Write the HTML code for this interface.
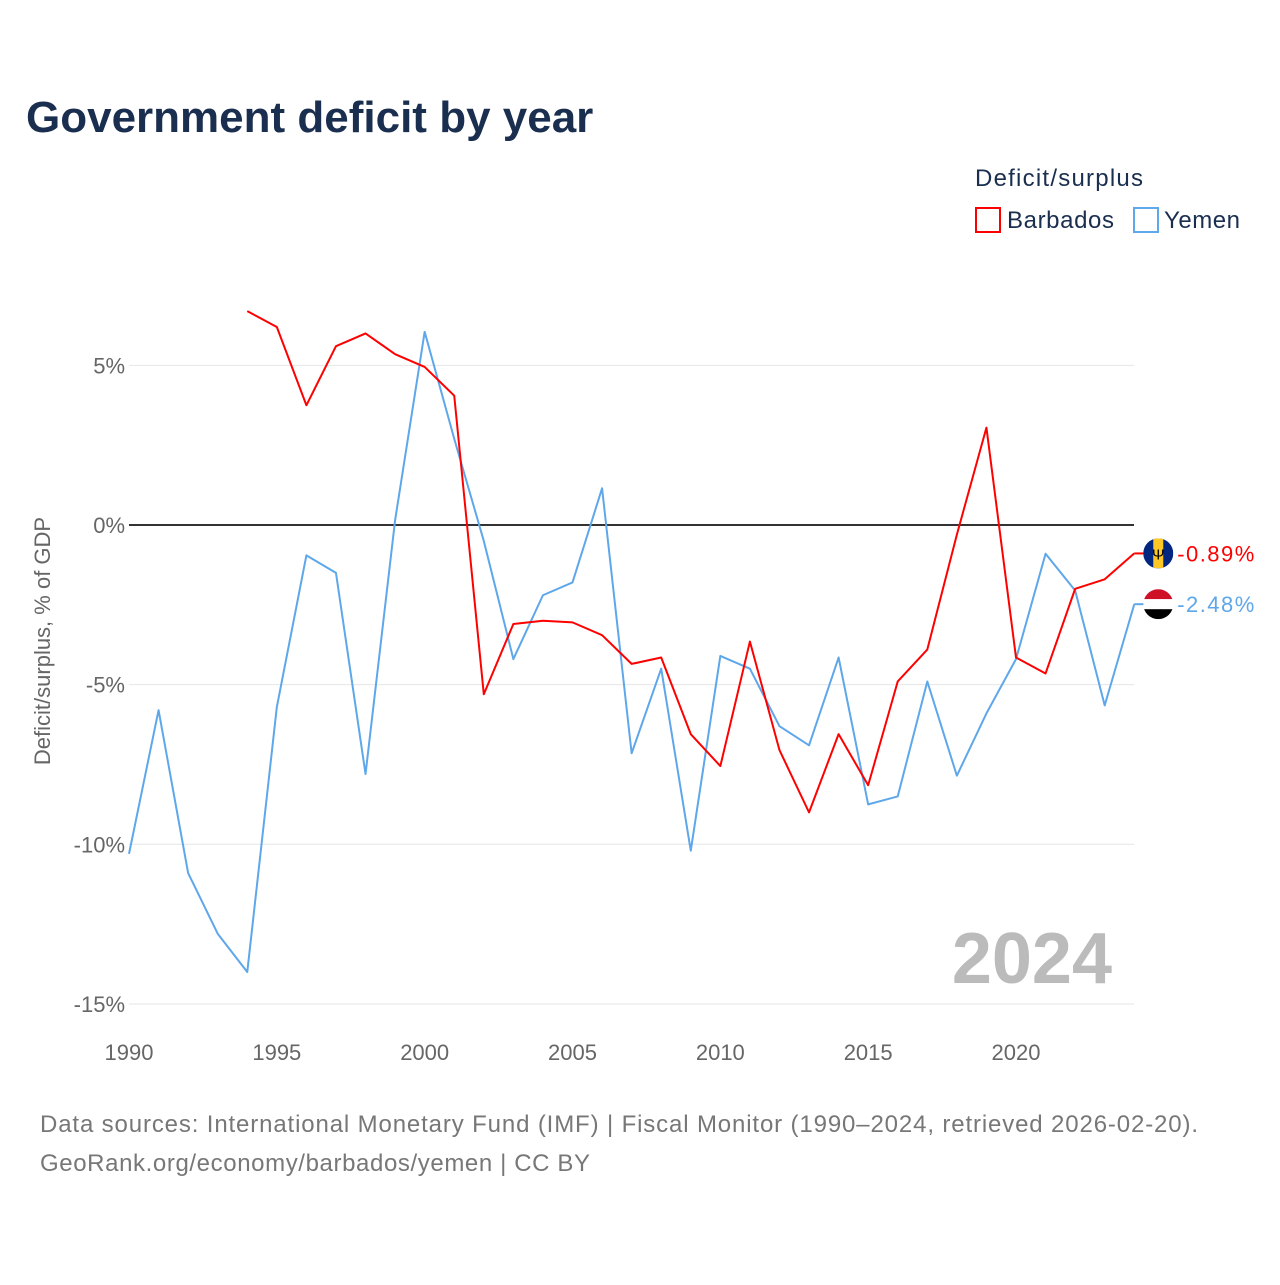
<!DOCTYPE html>
<html><head><meta charset="utf-8"><style>
body{margin:0;background:#fff;font-family:"Liberation Sans",sans-serif;}
svg text{font-family:"Liberation Sans",sans-serif;}
</style></head><body>
<svg id="c" width="1280" height="1280" xmlns="http://www.w3.org/2000/svg">
<rect width="1280" height="1280" fill="#fff"/>
<text x="26" y="132" font-size="44" font-weight="bold" fill="#1a2e4f">Government deficit by year</text>
<text x="975" y="186" font-size="24" fill="#1a2e4f" textLength="168">Deficit/surplus</text>
<g><rect x="976" y="208" width="24" height="24" fill="none" stroke="#ff0000" stroke-width="2"/><text x="1007" y="228" font-size="24" fill="#1a2e4f" textLength="107">Barbados</text></g>
<g><rect x="1134" y="208" width="24" height="24" fill="none" stroke="#5ea7ea" stroke-width="2"/><text x="1164" y="228" font-size="24" fill="#1a2e4f" textLength="76">Yemen</text></g>
<text transform="translate(50,641) rotate(-90)" text-anchor="middle" font-size="22" fill="#666">Deficit/surplus, % of GDP</text>
<text x="1112" y="983" text-anchor="end" font-size="72" font-weight="bold" fill="#bbb">2024</text>
<g id="grid"></g><g id="lines"></g>
<text x="40" y="1132" font-size="24" fill="#777" textLength="1158">Data sources: International Monetary Fund (IMF) | Fiscal Monitor (1990–2024, retrieved 2026-02-20).</text>
<text x="40" y="1171" font-size="24" fill="#777" textLength="550">GeoRank.org/economy/barbados/yemen | CC BY</text>
</svg>
<script>
const years=[];for(let y=1990;y<=2024;y++)years.push(y);
const yemen=[-10.3,-5.8,-10.9,-12.8,-14.0,-5.7,-0.95,-1.5,-7.8,0.15,6.05,2.7,-0.5,-4.2,-2.2,-1.8,1.15,-7.15,-4.5,-10.2,-4.1,-4.5,-6.3,-6.9,-4.15,-8.75,-8.5,-4.9,-7.85,-5.9,-4.2,-0.9,-2.05,-5.65,-2.48];
const barbados=[null,null,null,null,6.7,6.2,3.75,5.6,6.0,5.35,4.95,4.05,-5.3,-3.1,-3.0,-3.05,-3.45,-4.35,-4.15,-6.55,-7.55,-3.65,-7.05,-9.0,-6.55,-8.15,-4.9,-3.9,-0.3,3.05,-4.15,-4.65,-2.0,-1.7,-0.89];
const yTicks=[5,0,-5,-10,-15];
const xTicks=[1990,1995,2000,2005,2010,2015,2020];
const X=y=>129+(y-1990)*(1016-129)/30;
const Y=v=>525-v*31.93;
const NS="http://www.w3.org/2000/svg";
function el(t,a,p){const e=document.createElementNS(NS,t);for(const k in a)e.setAttribute(k,a[k]);p.appendChild(e);return e;}
const g=document.getElementById('grid'),L=document.getElementById('lines');
yTicks.forEach(v=>{
 const l=el('line',{x1:129,x2:1134,y1:Y(v),y2:Y(v),stroke:v===0?'#333':'#e6e6e6','stroke-width':v===0?2:1},g);
 
 
 const t=el('text',{x:125,y:Y(v)+8,'text-anchor':'end','font-size':22,fill:'#666'},g);t.textContent=v+'%';
 
 
});
xTicks.forEach(y=>{
 const t=el('text',{x:X(y),y:1060,'text-anchor':'middle','font-size':22,fill:'#666'},g);t.textContent=y;
 
 
});
function line(data,color,name){
 let d='';data.forEach((v,i)=>{if(v===null)return;d+=(d?'L':'M')+X(years[i])+','+Y(v);});
 const p=el('path',{d:d,fill:'none',stroke:color,'stroke-width':2,'stroke-linejoin':'round'},L);
 
 
}
line(yemen,'#5ea7ea','yemen-line');
line(barbados,'#ff0000','barbados-line');
function endLabel(v,color,name,flag){
 const x=X(2024),y=Y(v);
 el('line',{x1:x,x2:x+10,y1:y,y2:y,stroke:color,'stroke-width':2},L);
 const f=el('g',{},L);
 
 
 const cx=x+24;
 const cp=el('clipPath',{id:'cp'+name},f);el('circle',{cx:cx,cy:y,r:15},cp);
 const gg=el('g',{'clip-path':'url(#cp'+name+')'},f);
 if(flag==='bb'){el('rect',{x:cx-15,y:y-15,width:30,height:30,fill:'#00267f'},gg);el('rect',{x:cx-5,y:y-15,width:10,height:30,fill:'#ffc726'},gg);
  const t=el('text',{x:cx,y:y+6,'text-anchor':'middle','font-size':15,fill:'#000'},gg);t.textContent='Ψ';}
 else{el('rect',{x:cx-15,y:y-15,width:30,height:10,fill:'#ce1126'},gg);el('rect',{x:cx-15,y:y-5,width:30,height:10,fill:'#fff'},gg);el('rect',{x:cx-15,y:y+5,width:30,height:10,fill:'#000'},gg);}
 const t=el('text',{x:x+43,y:y+8,'font-size':22,fill:color,textLength:77},L);t.textContent=v.toFixed(2)+'%';
 
 
}
endLabel(barbados[barbados.length-1],'#ff0000','barbados','bb');
endLabel(yemen[yemen.length-1],'#5ea7ea','yemen','ye');
</script>
</body></html>
